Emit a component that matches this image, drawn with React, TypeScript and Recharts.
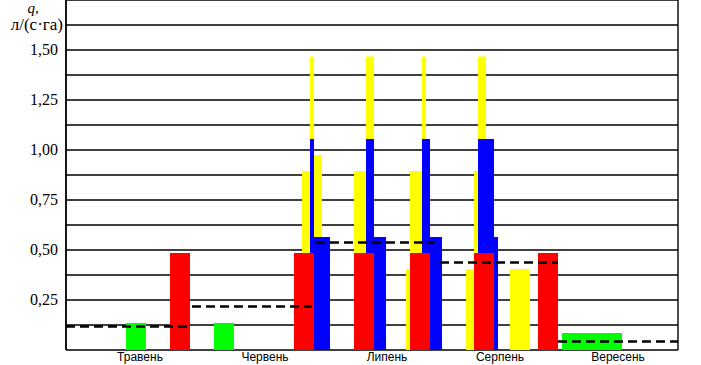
import React from 'react';
import { ComposedChart, XAxis, YAxis, CartesianGrid, ReferenceArea, ReferenceLine } from 'recharts';

// Days counted from 1 May (x axis), q in l/(s·ha)
const monthBounds = [0, 31, 61, 92, 123, 153];
const monthNames = ['Травень', 'Червень', 'Липень', 'Серпень', 'Вересень'];
const monthLabelDays = [18.5, 49.75, 80.25, 108.5, 138];
const yTicks = [0, 0.125, 0.25, 0.375, 0.5, 0.625, 0.75, 0.875, 1, 1.125, 1.25, 1.375, 1.5, 1.625, 1.75];
const yLabeled = [0.25, 0.5, 0.75, 1, 1.25, 1.5];

const yellowBars = [
  { from: 59, to: 61, q: 0.895 },
  { from: 61, to: 62, q: 1.467 },
  { from: 61, to: 64, q: 0.975 },
  { from: 72, to: 75, q: 0.895 },
  { from: 75, to: 77, q: 1.467 },
  { from: 85, to: 86, q: 0.405 },
  { from: 86, to: 89, q: 0.895 },
  { from: 89, to: 90, q: 1.467 },
  { from: 100, to: 102, q: 0.405 },
  { from: 102, to: 103, q: 0.895 },
  { from: 103, to: 105, q: 1.467 },
  { from: 111, to: 116, q: 0.405 },
];
const blueBars = [
  { from: 61, to: 66, q: 0.565 },
  { from: 61, to: 62, q: 1.055 },
  { from: 75, to: 80, q: 0.565 },
  { from: 75, to: 77, q: 1.055 },
  { from: 89, to: 94, q: 0.565 },
  { from: 89, to: 91, q: 1.055 },
  { from: 103, to: 108, q: 0.565 },
  { from: 103, to: 107, q: 1.055 },
];
const redBars = [
  { from: 26, to: 31, q: 0.485 },
  { from: 57, to: 62, q: 0.485 },
  { from: 72, to: 77, q: 0.485 },
  { from: 86, to: 91, q: 0.485 },
  { from: 102, to: 107, q: 0.485 },
  { from: 118, to: 123, q: 0.485 },
];
const greenBars = [
  { from: 15, to: 20, q: 0.135 },
  { from: 37, to: 42, q: 0.135 },
  { from: 124, to: 139, q: 0.085 },
];
const meanLines = [
  { from: 0, to: 30.25, q: 0.117 },
  { from: 31.5, to: 61.5, q: 0.217 },
  { from: 62.5, to: 92.25, q: 0.537 },
  { from: 93.5, to: 123, q: 0.437 },
  { from: 123, to: 153, q: 0.043 },
];

const labelData = monthLabelDays.map((d, i) => ({ d, name: monthNames[i] }));

const fmtY = (v: number) => (yLabeled.some((t) => Math.abs(t - v) < 1e-9) ? v.toFixed(2).replace('.', ',') : '');
const fmtX = (v: number) => {
  const i = monthLabelDays.findIndex((d) => Math.abs(d - v) < 1e-9);
  return i >= 0 ? monthNames[i] : '';
};

const serif = "'Liberation Serif', 'DejaVu Serif', serif";
const sans = "'Liberation Sans', Arial, sans-serif";

const YTitle = () => (
  <g>
    <text x={33} y={13} textAnchor="middle" fontFamily={serif} fontSize={15} fontStyle="italic" fill="#000">q,</text>
    <text x={63} y={30} textAnchor="end" fontFamily={serif} fontSize={17} fill="#000">л/(с·га)</text>
  </g>
);

const YTick = (props: any) => {
  const { x, y, payload } = props;
  const s = fmtY(payload.value);
  if (!s) return <g />;
  return (
    <text x={x} y={y} dy={5} textAnchor="end" fontFamily={serif} fontSize={16} fill="#000">{s}</text>
  );
};

const renderRects = (bars: { from: number; to: number; q: number }[], color: string, key: string) =>
  bars.map((b, i) => (
    <ReferenceArea
      key={key + i}
      x1={b.from}
      x2={b.to}
      y1={0}
      y2={b.q}
      fill={color}
      fillOpacity={1}
      stroke="none"
      ifOverflow="visible"
    />
  ));

export default function App() {
  return (
    <div style={{ position: 'absolute', left: 0, top: 0, width: 701, height: 365, background: '#fff' }}>
      <ComposedChart width={701} height={365} data={labelData} margin={{ top: 0, right: 23, bottom: 0, left: 6 }}>
        <CartesianGrid stroke="#000" strokeWidth={1.4} horizontal vertical />
        <XAxis
          xAxisId={0}
          type="number"
          dataKey="d"
          domain={[0, 153]}
          ticks={monthBounds}
          interval={0}
          height={0}
          tick={false}
          tickLine={false}
          axisLine={false}
          allowDataOverflow
        />
        <XAxis
          xAxisId="lab"
          type="number"
          dataKey="d"
          domain={[0, 153]}
          ticks={monthLabelDays}
          interval={0}
          height={15}
          tickFormatter={fmtX}
          tickLine={false}
          tickSize={0}
          tickMargin={2}
          axisLine={false}
          tick={{ fontFamily: sans, fontSize: 12, fill: '#000' }}
          allowDataOverflow
        />
        <YAxis
          type="number"
          domain={[0, 1.75]}
          ticks={yTicks}
          interval={0}
          width={60}
          tickLine={false}
          axisLine={{ stroke: '#000', strokeWidth: 1.4 }}
          tick={<YTick />}
          allowDataOverflow
          label={{ content: () => <YTitle /> }}
        />
        {renderRects(yellowBars, '#ffff00', 'y')}
        {renderRects(blueBars, '#0000ff', 'b')}
        {renderRects(redBars, '#ff0000', 'r')}
        {renderRects(greenBars, '#00ff00', 'g')}
        {meanLines.map((m, i) => (
          <ReferenceLine
            key={'m' + i}
            segment={[{ x: m.from, y: m.q }, { x: m.to, y: m.q }]}
            stroke="#000"
            strokeWidth={2.5}
            strokeDasharray="9 5"
            ifOverflow="visible"
          />
        ))}
      </ComposedChart>
    </div>
  );
}
